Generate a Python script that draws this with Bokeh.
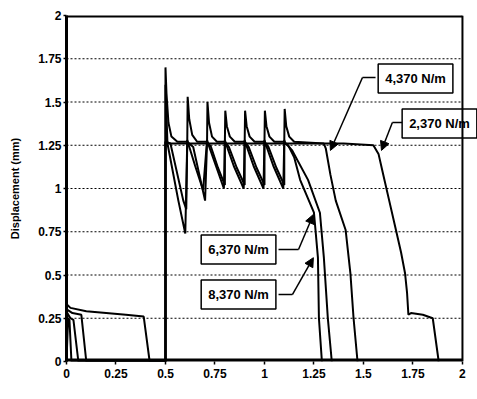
from bokeh.plotting import figure
from bokeh.models import Range1d, FixedTicker, Label, Arrow, NormalHead, Span
from bokeh.embed import file_html
from bokeh.resources import INLINE

# ---------------- data ----------------
x_ticks = [0, 0.25, 0.5, 0.75, 1, 1.25, 1.5, 1.75, 2]
x_tick_labels = ["0", "0.25", "0.5", "0.75", "1", "1.25", "1.5", "1.75", "2"]
y_ticks = [0, 0.25, 0.5, 0.75, 1, 1.25, 1.5, 1.75, 2]
y_tick_labels = ["0", "0.25", "0.5", "0.75", "1", "1.25", "1.5", "1.75", "2"]

# 2,370 N/m
t_2370 = [0, 0.002, 0.02, 0.1, 0.2, 0.3, 0.39, 0.42, 0.5, 0.5, 0.52, 1.0, 1.4, 1.55,
          1.576, 1.60, 1.63, 1.66, 1.69, 1.71, 1.72, 1.727, 1.74, 1.80, 1.85, 1.88]
d_2370 = [0, 0.33, 0.31, 0.29, 0.28, 0.27, 0.26, 0, 0, 1.27, 1.26, 1.26, 1.26, 1.25,
          1.20, 1.08, 0.93, 0.78, 0.63, 0.51, 0.40, 0.27, 0.28, 0.27, 0.25, 0]

# 4,370 N/m (with impact spikes)
t_4370 = [0, 0.003, 0.03, 0.075, 0.1, 0.5, 0.5, 0.505, 0.515, 0.53, 0.56,
          0.61, 0.612, 0.62, 0.635, 0.66,
          0.71, 0.712, 0.72, 0.735, 0.76,
          0.80, 0.802, 0.81, 0.825, 0.85,
          0.90, 0.902, 0.91, 0.925, 0.95,
          1.00, 1.002, 1.01, 1.025, 1.05,
          1.10, 1.102, 1.11, 1.125, 1.15,
          1.30, 1.31, 1.333, 1.36, 1.41, 1.434, 1.45, 1.47]
d_4370 = [0, 0.30, 0.28, 0.27, 0, 0, 1.70, 1.55, 1.38, 1.30, 1.27,
          1.27, 1.53, 1.40, 1.31, 1.27,
          1.27, 1.50, 1.38, 1.30, 1.27,
          1.27, 1.45, 1.36, 1.30, 1.27,
          1.27, 1.45, 1.36, 1.30, 1.27,
          1.27, 1.45, 1.36, 1.30, 1.27,
          1.27, 1.46, 1.36, 1.30, 1.27,
          1.26, 1.23, 1.08, 0.93, 0.76, 0.51, 0.25, 0]

# 6,370 N/m
t_6370 = [0, 0.004, 0.02, 0.035, 0.06, 0.5, 0.5, 0.51, 0.565, 0.60,
          0.61, 0.615, 0.65, 0.69,
          0.71, 0.715, 0.755, 0.795,
          0.80, 0.805, 0.845, 0.895,
          0.90, 0.905, 0.945, 0.995,
          1.00, 1.005, 1.045, 1.095,
          1.10, 1.105, 1.12, 1.15, 1.18, 1.25, 1.27, 1.275, 1.29]
d_6370 = [0, 0.28, 0.25, 0.24, 0, 0, 1.60, 1.26, 0.93, 0.74,
          1.28, 1.26, 1.13, 0.99,
          1.28, 1.26, 1.13, 1.00,
          1.28, 1.26, 1.13, 1.00,
          1.28, 1.26, 1.13, 1.00,
          1.28, 1.26, 1.13, 1.00,
          1.28, 1.26, 1.25, 1.18, 1.05, 0.86, 0.60, 0.25, 0]

# 8,370 N/m
t_8370 = [0, 0.008, 0.015, 0.025, 0.5, 0.5, 0.525, 0.59, 0.605,
          0.61, 0.64, 0.70,
          0.71, 0.73, 0.765, 0.80,
          0.80, 0.82, 0.86, 0.90,
          0.90, 0.92, 0.96, 1.00,
          1.00, 1.02, 1.06, 1.10,
          1.10, 1.14, 1.22, 1.28, 1.30, 1.32, 1.34]
d_8370 = [0, 0.25, 0.24, 0, 0, 1.27, 1.26, 0.93, 0.88,
          1.27, 1.24, 0.93,
          1.27, 1.24, 1.12, 1.02,
          1.27, 1.24, 1.12, 1.02,
          1.27, 1.24, 1.12, 1.02,
          1.27, 1.24, 1.12, 1.02,
          1.27, 1.22, 1.05, 0.86, 0.60, 0.25, 0]

series_labels = ["2,370 N/m", "4,370 N/m", "6,370 N/m", "8,370 N/m"]

# ---------------- figure ----------------
FONT = "Liberation Sans"
X_MIN, X_MAX = x_ticks[0], x_ticks[-1]
Y_MIN, Y_MAX = y_ticks[0], y_ticks[-1]

# frame runs a little past t = 2 so that the 2,370 N/m box can overhang the border
p = figure(width=477, height=399, x_range=Range1d(0, 2.076), y_range=Range1d(0, 2),
           output_backend="svg", toolbar_location=None,
           min_border_left=66, min_border_right=0, min_border_top=15, min_border_bottom=38)

p.outline_line_color = None
p.background_fill_color = "white"
p.border_fill_color = "white"

p.xgrid.visible = False
p.ygrid.visible = False

# dotted horizontal grid lines, limited to 0..2 s
grid_y = y_ticks[1:-1]
p.segment(x0=[X_MIN] * len(grid_y), y0=grid_y, x1=[X_MAX] * len(grid_y), y1=grid_y,
          line_color="black", line_width=1, line_dash="2 2")

p.xaxis.ticker = FixedTicker(ticks=x_ticks)
p.xaxis.major_label_overrides = {t: s for t, s in zip(x_ticks, x_tick_labels)}
p.yaxis.ticker = FixedTicker(ticks=y_ticks)
p.yaxis.major_label_overrides = {t: s for t, s in zip(y_ticks, y_tick_labels)}

for ax in (p.xaxis[0], p.yaxis[0]):
    ax.axis_line_color = "black"
    ax.axis_line_width = 3
    ax.major_tick_line_color = "black"
    ax.major_tick_line_width = 1.5
    ax.major_tick_in = 0
    ax.major_tick_out = 3
    ax.minor_tick_line_color = None
    ax.major_label_text_font = FONT
    ax.major_label_text_font_style = "bold"
    ax.major_label_text_font_size = "12px"
    ax.major_label_text_color = "black"
    ax.major_label_standoff = 2
p.xaxis.major_label_standoff = 4
p.xaxis.axis_line_color = None   # drawn below, only from 0 to 2 s

p.yaxis.axis_label = "Displacement (mm)"
p.yaxis.axis_label_text_font = FONT
p.yaxis.axis_label_text_font_style = "bold"
p.yaxis.axis_label_text_font_size = "11px"
p.yaxis.axis_label_text_color = "black"
p.yaxis.axis_label_standoff = 14

# plot frame: bottom (thick), top
p.segment(x0=[X_MIN], y0=[Y_MIN], x1=[X_MAX], y1=[Y_MIN], line_color="black", line_width=6)
p.segment(x0=[X_MIN], y0=[Y_MAX], x1=[X_MAX], y1=[Y_MAX], line_color="black", line_width=4)

# curves
for t, d in [(t_2370, d_2370), (t_4370, d_4370), (t_6370, d_6370), (t_8370, d_8370)]:
    p.line(t, d, line_color="black", line_width=2)

# leader lines + arrowheads
leaders = [
    ((1.561, 1.642), (1.495, 1.642), (1.333, 1.22)),
    ((1.697, 1.382), (1.646, 1.382), (1.591, 1.22)),
    ((1.071, 0.647), (1.172, 0.647), (1.247, 0.85)),
    ((1.071, 0.387), (1.141, 0.387), (1.247, 0.60)),
]
for a, b, c in leaders:
    p.line([a[0], b[0]], [a[1], b[1]], line_color="black", line_width=1.5)
    p.add_layout(Arrow(end=NormalHead(size=9, fill_color="black", line_color="black"),
                       x_start=b[0], y_start=b[1], x_end=c[0], y_end=c[1],
                       line_color="black", line_width=1.5))

box_pos = [(1.884, 1.376), (1.763, 1.636), (0.869, 0.647), (0.869, 0.387)]
for (bx, by), txt in zip(box_pos, series_labels):
    p.add_layout(Label(x=bx, y=by, text=txt, text_align="center", text_baseline="middle",
                       text_font=FONT, text_font_style="bold", text_font_size="13px",
                       text_color="black", background_fill_color="white",
                       border_line_color="black", border_line_width=1.5, padding=7))

# right border of the plot at t = 2 s (crosses the overhanging box as in the original)
p.add_layout(Span(location=X_MAX, dimension="height", line_color="black", line_width=2))

p.add_layout(Label(x=1.15, y=-0.18, text="Time (sec)", text_align="center",
                   text_baseline="middle", text_font=FONT, text_font_style="bold",
                   text_font_size="11px", text_color="black"))

open("out.html", "w").write(file_html(p, INLINE))
